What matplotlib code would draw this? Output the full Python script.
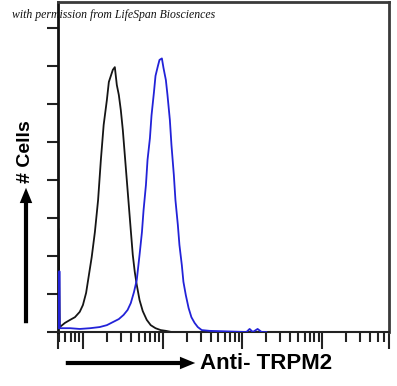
import numpy as np
import matplotlib.pyplot as plt
from matplotlib.patches import FancyArrowPatch
from matplotlib.ticker import FixedLocator, NullFormatter

# ----------- histogram data (log10 intensity, cell count) ----------- #
black_logx = [0.695, 0.71, 0.775, 0.84, 0.90, 0.96, 1.0, 1.04, 1.075, 1.11, 1.15, 1.19,
              1.225, 1.26, 1.30, 1.325, 1.35, 1.375, 1.40, 1.425, 1.45, 1.475, 1.50,
              1.525, 1.55, 1.575, 1.60, 1.625, 1.65, 1.675, 1.71, 1.75, 1.80, 1.85,
              1.91, 1.975, 2.04, 2.11]
black_cnt = [2.7, 0.13, 0.24, 0.32, 0.39, 0.53, 0.71, 1.03, 1.5, 1.97, 2.63, 3.47,
             4.53, 5.45, 6.1, 6.58, 6.74, 6.9, 6.97, 6.5, 6.24, 5.84, 5.32,
             4.66, 4.0, 3.34, 2.68, 2.03, 1.58, 1.24, 0.84, 0.55, 0.32, 0.18,
             0.1, 0.05, 0.03, 0.0]

blue_logx = [0.70, 0.705, 0.71, 0.84, 0.96, 1.09, 1.21, 1.30, 1.375, 1.45, 1.51, 1.56, 1.60,
             1.64, 1.675, 1.71, 1.74, 1.76, 1.79, 1.81, 1.84, 1.86, 1.89, 1.91, 1.94,
             1.96, 1.99, 2.01, 2.04, 2.06, 2.09, 2.11, 2.14, 2.16, 2.19, 2.21, 2.24,
             2.26, 2.29, 2.325, 2.36, 2.40, 2.44, 2.49, 2.59, 3.05, 3.09, 3.13, 3.19,
             3.24, 3.30]
blue_cnt = [0.1, 1.6, 0.1, 0.1, 0.08, 0.1, 0.13, 0.18, 0.26, 0.34, 0.45, 0.58, 0.76,
            1.05, 1.37, 2.03, 2.63, 3.2, 3.87, 4.53, 5.1, 5.7, 6.3, 6.74, 7.0,
            7.16, 7.2, 6.95, 6.63, 6.24, 5.58, 4.92, 4.13, 3.47, 2.82, 2.29, 1.76,
            1.32, 0.97, 0.63, 0.39, 0.24, 0.13, 0.05, 0.03, 0.0, 0.08, 0.0, 0.08,
            0.0, 0.0]

y_ticks = [0, 1, 2, 3, 4, 5, 6, 7, 8]
x_decades = [10, 100, 1000, 10000]
x_min, x_max = 10 ** 0.6875, 10 ** 4.8375

W, H = 397, 386
fig = plt.figure(figsize=(W / 100, H / 100), dpi=100)
ax = fig.add_axes([58 / W, 1 - 332 / H, (389 - 58) / W, (332 - 2) / H])

ax.plot(10 ** np.array(black_logx), black_cnt, color='#151515', lw=1.3)
ax.plot(10 ** np.array(blue_logx), blue_cnt, color='#2222d8', lw=1.3, zorder=3)

ax.set_xscale('log')
ax.set_xlim(x_min, x_max)
ax.set_ylim(0, 330 / 38)

ax.xaxis.set_major_locator(FixedLocator([x_min] + x_decades + [x_max]))
minors = [m * d for d in [1, 10, 100, 1000, 10000] for m in range(2, 10)]
ax.xaxis.set_minor_locator(FixedLocator([v for v in minors if x_min < v < x_max]))
ax.xaxis.set_major_formatter(NullFormatter())
ax.xaxis.set_minor_formatter(NullFormatter())
ax.set_yticks(y_ticks)
ax.set_yticklabels([])

ax.tick_params(axis='x', which='major', length=12, width=1.5, color='#222')
ax.tick_params(axis='x', which='minor', length=7, width=1.5, color='#222')
ax.tick_params(axis='y', length=8, width=1.5, color='#222')

for s in ['top', 'right']:
    ax.spines[s].set_color('#3a3a3a')
    ax.spines[s].set_linewidth(2)
ax.spines['left'].set_color('#111')
ax.spines['left'].set_linewidth(2)
ax.spines['bottom'].set_color('#222')
ax.spines['bottom'].set_linewidth(1.5)

# ----------- labels and arrows ----------- #
def fx(px):
    return px / W

def fy(py):
    return 1 - py / H

fig.text(fx(12), fy(18), 'with permission from LifeSpan Biosciences',
         fontsize=8.5, family='Liberation Serif', style='italic', color='#111',
         va='baseline', ha='left', zorder=10)

fig.text(fx(200), fy(363.5), 'Anti- TRPM2', fontsize=16, family='Liberation Sans',
         fontweight='bold', va='center', ha='left')
fig.text(fx(26), fy(152), '# Cells', fontsize=14, family='Liberation Sans',
         fontweight='bold', va='center', ha='center', rotation=90)

arrow_style = 'simple,head_length=11,head_width=9,tail_width=3'
fig.patches.append(FancyArrowPatch(
    (fx(63), fy(363)), (fx(198), fy(363)), transform=fig.transFigure,
    arrowstyle=arrow_style, color='black', lw=0))
fig.patches.append(FancyArrowPatch(
    (fx(26), fy(326)), (fx(26), fy(185)), transform=fig.transFigure,
    arrowstyle=arrow_style, color='black', lw=0))

fig.savefig('out.png', dpi=100)
